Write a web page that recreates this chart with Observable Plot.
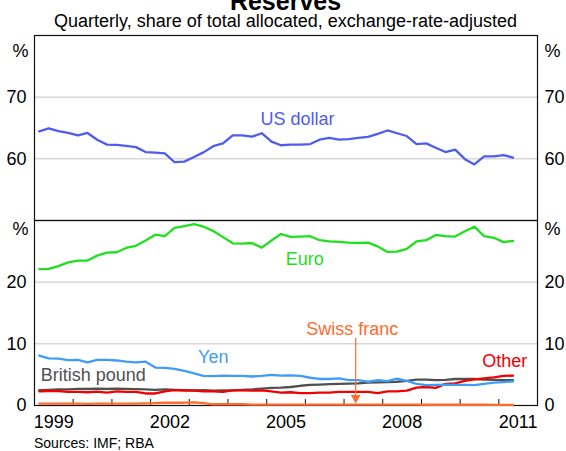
<!DOCTYPE html>
<html>
<head>
<meta charset="utf-8">
<script src="https://cdn.jsdelivr.net/npm/d3@7"></script>
<script src="https://cdn.jsdelivr.net/npm/@observablehq/plot@0.6"></script>
<style>
  html, body { margin: 0; padding: 0; background: #fff; }
  body { width: 566px; height: 451px; position: relative; overflow: hidden; font-family: "Liberation Sans", Arial, sans-serif; }
  svg { overflow: visible; }
  #title { position: absolute; left: 0; width: 566px; top: -11px; text-align: center; font-weight: bold; font-size: 25px; line-height: 25px; padding-left: 5px; box-sizing: border-box; }
  #subtitle { position: absolute; left: 0; width: 566px; top: 12px; text-align: center; font-size: 18px; line-height: 18px; padding-left: 5px; box-sizing: border-box; }
  #top { position: absolute; left: 0; top: 20px; }
  #bottom { position: absolute; left: 0; top: 208px; }
  #source { position: absolute; left: 34px; top: 436px; font-size: 14px; line-height: 14px; }
</style>
</head>
<body>
<div id="title">Reserves</div>
<div id="subtitle">Quarterly, share of total allocated, exchange-rate-adjusted</div>
<div id="top"></div>
<div id="bottom"></div>
<div id="source">Sources: IMF; RBA</div>
<script>
// Quarterly observations, 1999 Q1 to 2011 Q2 (plotted at mid-quarter)
const firstYear = 1999;
const nQuarters = 50;
const quarterDates = d3.range(nQuarters).map(i => new Date(Date.UTC(firstYear, 1 + 3 * i, 15)));

const usDollar = [64.45, 64.95, 64.5, 64.2, 63.8, 64.2, 63.1, 62.3, 62.25, 62.1,
  61.9, 61.1, 61.0, 60.9, 59.45, 59.55, 60.3, 61.05, 62.05, 62.5,
  63.8, 63.8, 63.6, 64.15, 62.8, 62.2, 62.3, 62.3, 62.4, 63.1,
  63.4, 63.1, 63.2, 63.4, 63.55, 64.05, 64.6, 64.15, 63.7, 62.4,
  62.5, 61.8, 61.1, 61.5, 59.95, 59.1, 60.4, 60.4, 60.6, 60.2];

const euro = [22.1, 22.15, 22.6, 23.2, 23.5, 23.5, 24.3, 24.8, 24.85, 25.55,
  25.9, 26.75, 27.7, 27.45, 28.8, 29.1, 29.4, 29.0, 28.3, 27.3,
  26.3, 26.25, 26.35, 25.6, 26.75, 27.8, 27.35, 27.4, 27.45, 26.8,
  26.6, 26.55, 26.4, 26.35, 26.4, 25.8, 24.9, 24.95, 25.4, 26.6,
  26.8, 27.65, 27.45, 27.4, 28.25, 29.0, 27.45, 27.2, 26.5, 26.7];

const yen = [8.1, 7.65, 7.6, 7.35, 7.4, 7.0, 7.4, 7.4, 7.3, 7.1,
  7.0, 7.1, 6.15, 6.1, 5.95, 5.6, 5.2, 4.8, 4.75, 4.85,
  4.8, 4.8, 4.7, 4.8, 4.95, 4.85, 4.9, 4.8, 4.5, 4.3,
  4.3, 4.4, 4.1, 4.1, 3.85, 4.1, 3.95, 4.35, 4.0, 3.5,
  3.3, 3.35, 3.4, 3.35, 3.35, 3.3, 3.5, 3.7, 3.8, 3.9];

const britishPound = [2.5, 2.55, 2.6, 2.6, 2.7, 2.7, 2.75, 2.7, 2.75, 2.7,
  2.65, 2.6, 2.55, 2.6, 2.55, 2.5, 2.45, 2.5, 2.4, 2.45,
  2.45, 2.55, 2.6, 2.75, 2.85, 2.9, 3.0, 3.2, 3.35, 3.4,
  3.45, 3.5, 3.55, 3.6, 3.7, 3.75, 3.8, 3.85, 4.0, 4.2,
  4.2, 4.1, 4.15, 4.3, 4.3, 4.3, 4.2, 4.15, 4.1, 4.1];

const other = [2.3, 2.35, 2.35, 2.2, 2.2, 2.15, 2.25, 2.1, 2.3, 2.2,
  2.2, 1.95, 1.95, 2.3, 2.5, 2.4, 2.4, 2.3, 2.3, 2.2,
  2.45, 2.45, 2.4, 2.45, 2.3, 2.1, 2.15, 2.0, 2.0, 2.1,
  2.1, 2.2, 2.2, 2.2, 2.2, 2.0, 2.3, 2.3, 2.4, 2.9,
  3.0, 2.85, 3.5, 3.6, 4.0, 4.25, 4.4, 4.55, 4.8, 4.85];

const swissFranc = [0.3, 0.3, 0.3, 0.3, 0.3, 0.25, 0.3, 0.3, 0.3, 0.3,
  0.3, 0.35, 0.4, 0.45, 0.45, 0.45, 0.5, 0.4, 0.2, 0.2,
  0.2, 0.2, 0.15, 0.15, 0.15, 0.15, 0.15, 0.15, 0.15, 0.15,
  0.15, 0.15, 0.15, 0.15, 0.15, 0.15, 0.15, 0.15, 0.15, 0.15,
  0.12, 0.12, 0.12, 0.12, 0.12, 0.12, 0.12, 0.1, 0.1, 0.1];

const colors = {
  "US dollar": "#4f5cf0",
  "Euro": "#1fe01f",
  "Yen": "#3f9cf7",
  "British pound": "#505050",
  "Other": "#f00000",
  "Swiss franc": "#ff6b2c"
};

// Tick labels and tick marks
const yearLabels = [1999, 2002, 2005, 2008, 2011];
const yearTicks = [2000, 2001, 2002, 2003, 2004, 2005, 2006, 2007, 2008, 2009, 2010, 2011];
const topYTicks = [60, 70];
const bottomYTicks = [0, 10, 20];

// Series labels (text, date, value)
const labelNames = ["US dollar", "Euro", "Yen", "British pound", "Swiss franc", "Other"];
const labelDates = ["2005-10-18", "2005-12-26", "2003-08-15", "2000-07-08", "2007-03-20", "2011-02-25"];
const labelValues = [66.5, 23.7, 7.85, 4.86, 12.4, 7.13];

// Swiss franc pointer
const arrowDate = "2007-04-21";
const arrowFrom = 10.86;
const arrowTo = 1.25;

const toRows = (name, values) => values.map((v, i) => ({name, date: quarterDates[i], value: v}));
const topRows = toRows("US dollar", usDollar);
const bottomSeries = [
  ["Swiss franc", swissFranc],
  ["British pound", britishPound],
  ["Other", other],
  ["Yen", yen],
  ["Euro", euro]
];
const bottomRows = bottomSeries.flatMap(([n, v]) => toRows(n, v));

const labels = labelNames.map((n, i) => ({name: n, date: new Date(labelDates[i]), value: labelValues[i], color: colors[n]}));
const topLabels = labels.filter(d => d.name === "US dollar");
const bottomLabels = labels.filter(d => d.name !== "US dollar");

const xDomain = [new Date(Date.UTC(1999, 0, 1)), new Date(Date.UTC(2012, 0, 1))];
const font = {fontFamily: "'Liberation Sans', Arial, sans-serif", fontSize: "18px", color: "#000", background: "transparent"};
const gridColor = "#c4c4c4";
const lineWidth = 2.3;

const topPlot = Plot.plot({
  width: 566, height: 200,
  marginTop: 15, marginBottom: 0, marginLeft: 34, marginRight: 29,
  style: font,
  x: {type: "utc", domain: xDomain, axis: null, label: null},
  y: {domain: [50, 80], label: null},
  color: {type: "identity"},
  marks: [
    Plot.gridY(topYTicks, {stroke: gridColor, strokeOpacity: 1, strokeWidth: 1}),
    Plot.axisY(topYTicks, {anchor: "left", tickSize: 0, tickPadding: 8, label: null}),
    Plot.axisY(topYTicks, {anchor: "right", tickSize: 0, tickPadding: 7, label: null}),
    Plot.text(["%"], {frameAnchor: "top-left", textAnchor: "end", dx: -6, dy: 9}),
    Plot.text(["%"], {frameAnchor: "top-right", textAnchor: "start", dx: 7, dy: 9}),
    Plot.frame({stroke: "#111", strokeWidth: 1.2}),
    Plot.lineY(topRows, {x: "date", y: "value", stroke: colors["US dollar"], strokeWidth: lineWidth, strokeLinejoin: "round"}),
    Plot.text(topLabels, {x: "date", y: "value", text: "name", fill: "color"})
  ]
});
document.getElementById("top").appendChild(topPlot);

const bottomPlot = Plot.plot({
  width: 566, height: 12 + 185 + 31,
  marginTop: 12, marginBottom: 31, marginLeft: 34, marginRight: 29,
  style: font,
  x: {type: "utc", domain: xDomain, label: null},
  y: {domain: [0, 30], label: null},
  color: {type: "identity"},
  marks: [
    Plot.gridY([10, 20], {stroke: gridColor, strokeOpacity: 1, strokeWidth: 1}),
    Plot.axisY(bottomYTicks, {anchor: "left", tickSize: 0, tickPadding: 8, label: null}),
    Plot.axisY(bottomYTicks, {anchor: "right", tickSize: 0, tickPadding: 7, label: null}),
    Plot.axisX(yearLabels.map(y => new Date(Date.UTC(y, 6, 2))), {anchor: "bottom", tickSize: 0, tickPadding: 10, label: null, tickFormat: d => String(d.getUTCFullYear())}),
    Plot.tickX(yearTicks.map(y => new Date(Date.UTC(y, 0, 1))), {x: d => d, insetTop: 179, stroke: "#111", strokeWidth: 1}),
    Plot.text(["%"], {frameAnchor: "top-left", textAnchor: "end", dx: -6, dy: 2}),
    Plot.text(["%"], {frameAnchor: "top-right", textAnchor: "start", dx: 7, dy: 2}),
    Plot.frame({stroke: "#111", strokeWidth: 1.2}),
    Plot.lineY(bottomRows, {x: "date", y: "value", z: "name", stroke: d => colors[d.name], strokeWidth: lineWidth, strokeLinejoin: "round"}),
    Plot.ruleX([new Date(arrowDate)], {x: d => d, y1: arrowFrom, y2: arrowTo, stroke: colors["Swiss franc"], strokeWidth: 1.2}),
    Plot.dot([new Date(arrowDate)], {x: d => d, y: arrowTo, symbol: "triangle", rotate: 180, r: 3.6, fill: colors["Swiss franc"], stroke: "none"}),
    Plot.text(bottomLabels, {x: "date", y: "value", text: "name", fill: "color"})
  ]
});
document.getElementById("bottom").appendChild(bottomPlot);
</script>
</body>
</html>
